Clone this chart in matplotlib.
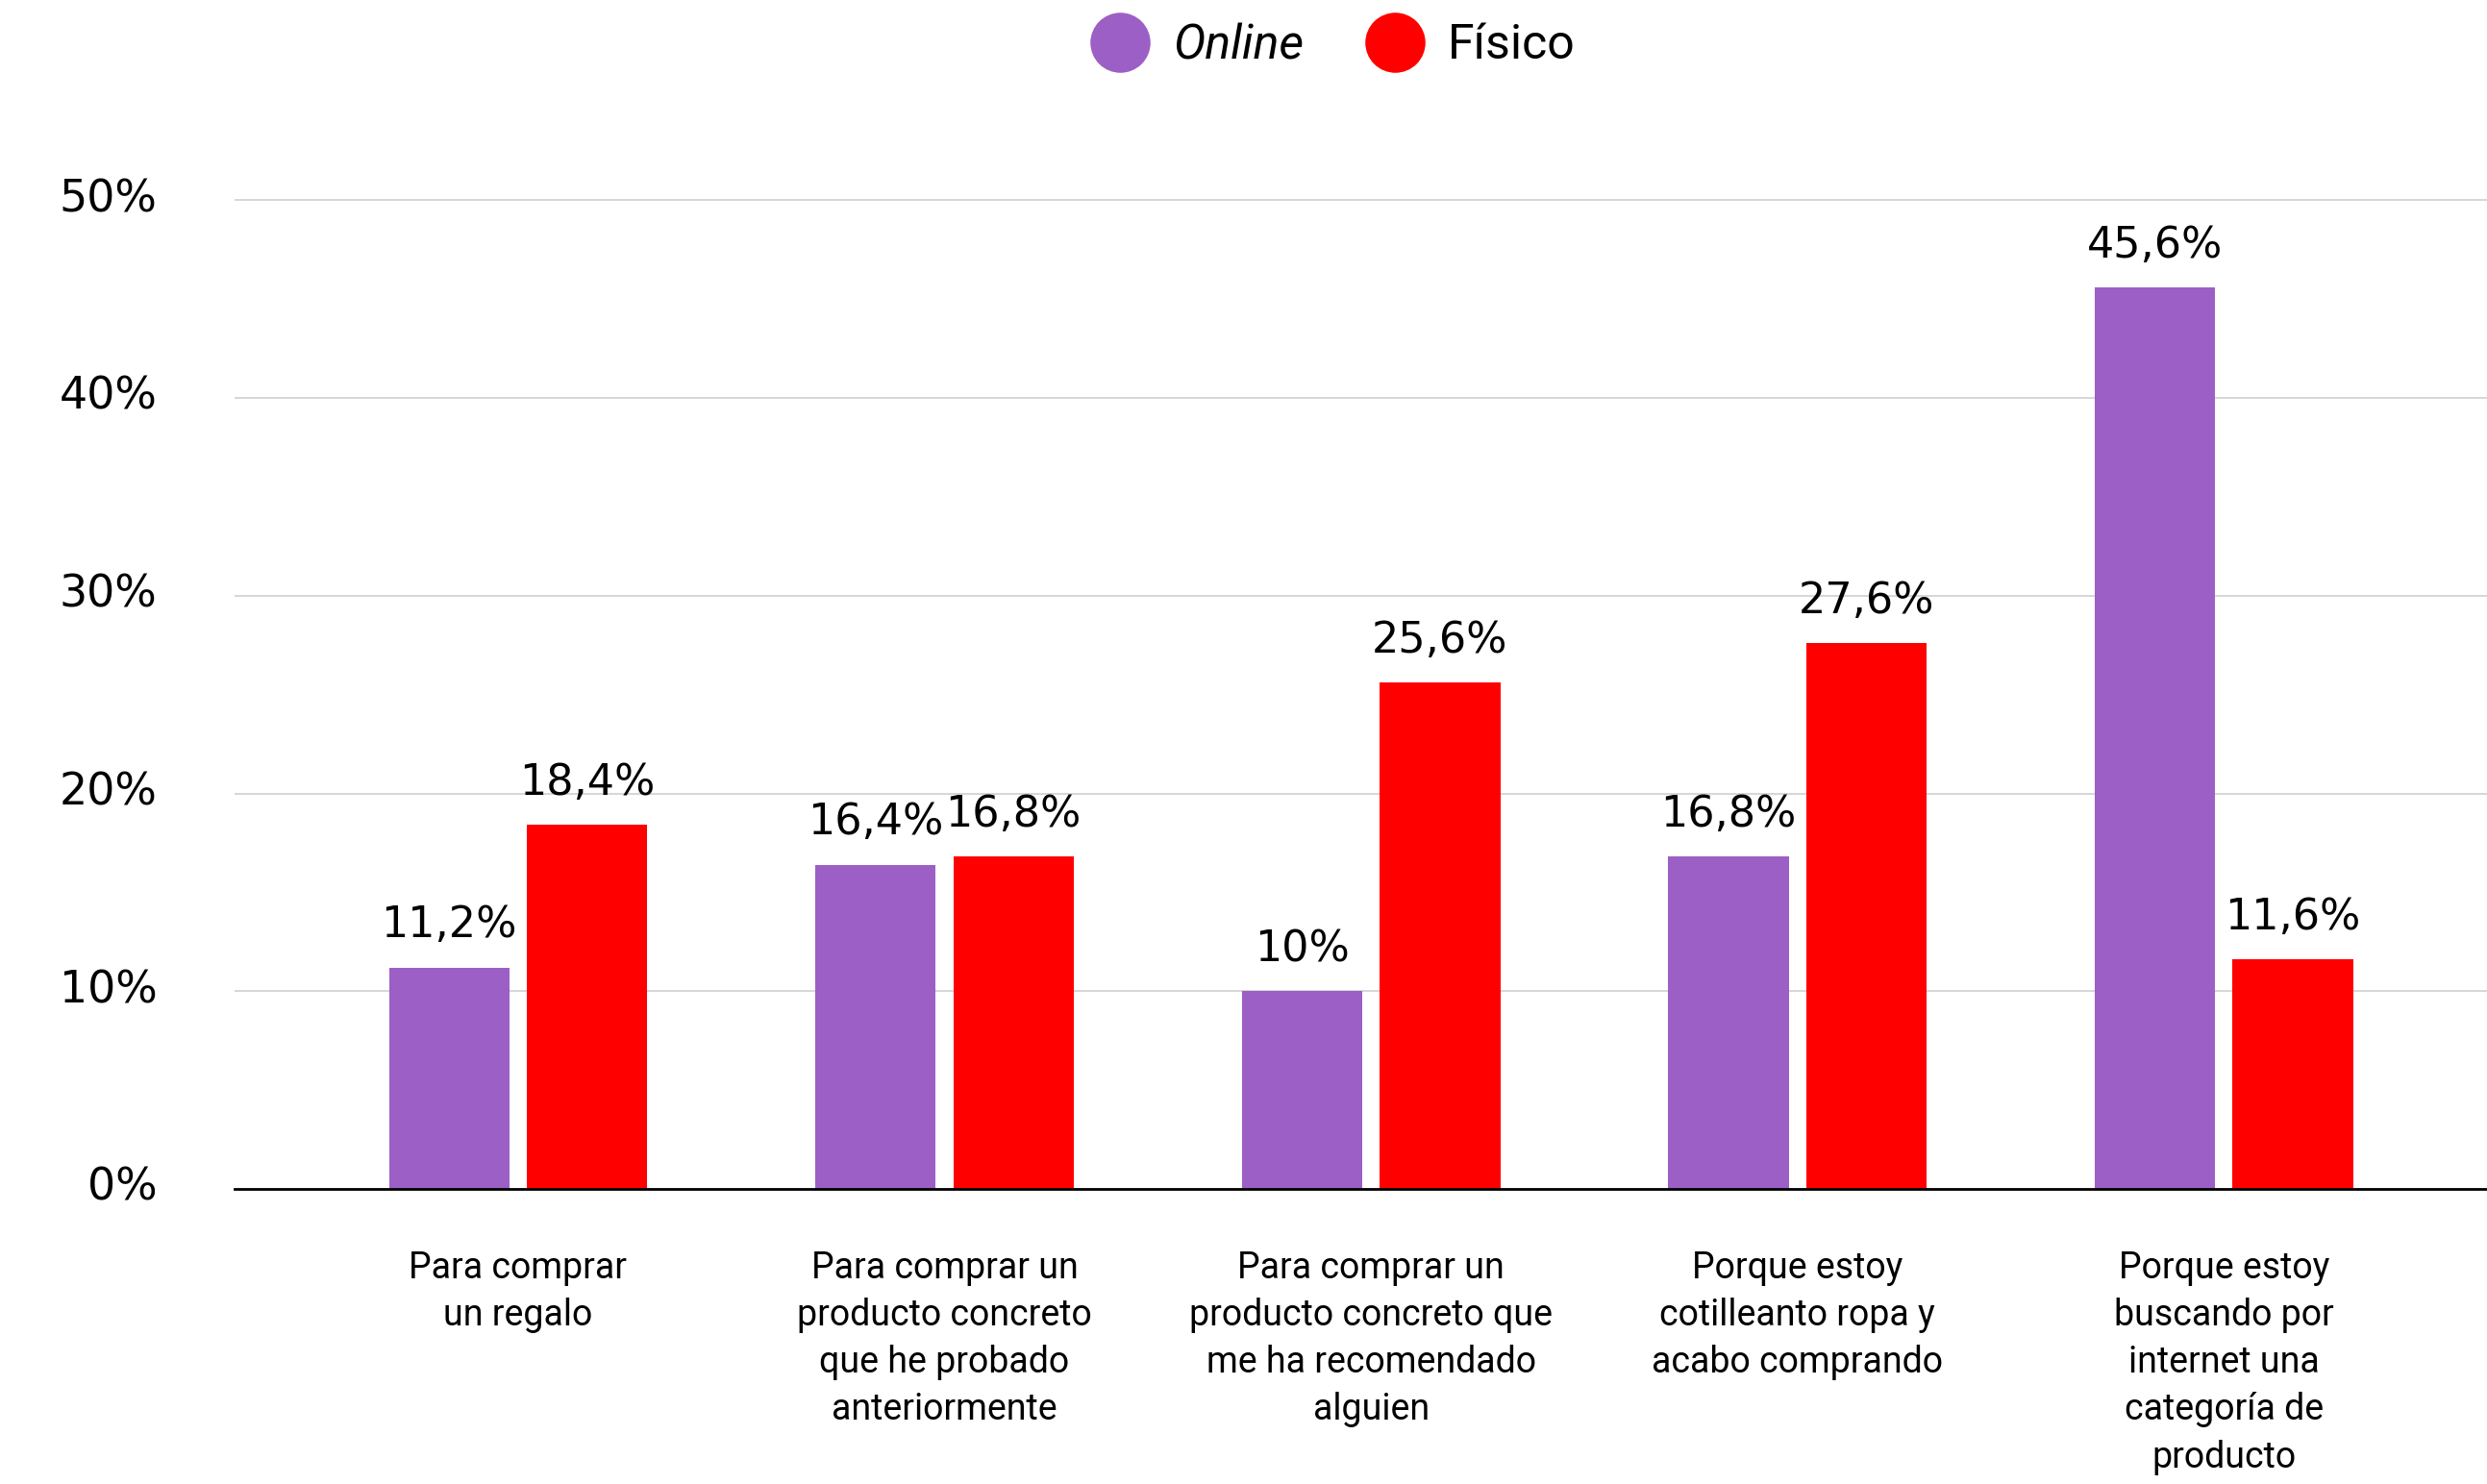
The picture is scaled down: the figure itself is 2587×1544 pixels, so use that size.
import numpy as np
import matplotlib.pyplot as plt
import matplotlib.transforms as mtransforms
from matplotlib.lines import Line2D

categories = [
    'Para comprar\nun regalo',
    'Para comprar un\nproducto concreto\nque he probado\nanteriormente',
    'Para comprar un\nproducto concreto que\nme ha recomendado\nalguien',
    'Porque estoy\ncotilleanto ropa y\nacabo comprando',
    'Porque estoy\nbuscando por\ninternet una\ncategoría de\nproducto',
]
online = [11.2, 16.4, 10.0, 16.8, 45.6]
fisico = [18.4, 16.8, 25.6, 27.6, 11.6]
online_labels = ['11,2%', '16,4%', '10%', '16,8%', '45,6%']
fisico_labels = ['18,4%', '16,8%', '25,6%', '27,6%', '11,6%']
yticks = [0, 10, 20, 30, 40, 50]

PURPLE = '#9c5fc5'
RED = '#ff0000'
NUM_FONT = 'DejaVu Sans'
TXT_FONT = 'Roboto'

fig = plt.figure(figsize=(25.87, 15.44), dpi=100)
ax = fig.add_axes([0.0943, 0.1988, 0.9057, 0.693])

x = np.arange(len(categories))
w = 0.2825
off = 0.1617
b1 = ax.bar(x - off, online, w, color=PURPLE, zorder=3)
b2 = ax.bar(x + off, fisico, w, color=RED, zorder=3)

for bars, labels in ((b1, online_labels), (b2, fisico_labels)):
    for bar, lab in zip(bars, labels):
        ax.annotate(lab, (bar.get_x() + bar.get_width() / 2, bar.get_height()),
                    xytext=(0, 16), textcoords='offset points',
                    ha='center', va='bottom', fontsize=32, family=NUM_FONT,
                    color='black', zorder=4)

ax.set_xlim(-0.665, 4.617)
ax.set_ylim(0, 52)
ax.set_yticks(yticks)
ax.set_yticklabels([f'{t}%' for t in yticks], fontsize=33, family=NUM_FONT)
ax.tick_params(axis='y', length=0, pad=58)
# nudge the y labels a little above their gridlines
lift = mtransforms.ScaledTranslation(0, 4 / 72, fig.dpi_scale_trans)
for lbl in ax.get_yticklabels():
    lbl.set_transform(lbl.get_transform() + lift)
ax.yaxis.grid(True, color='#d3d3d3', linewidth=1.3, zorder=0)
ax.set_axisbelow(True)

ax.set_xticks(x)
ax.set_xticklabels(categories, fontsize=27, family=TXT_FONT, linespacing=1.42)
ax.tick_params(axis='x', length=0, pad=46)

for s in ('top', 'right', 'left'):
    ax.spines[s].set_visible(False)
ax.spines['bottom'].set_color('black')
ax.spines['bottom'].set_linewidth(2)
ax.spines['bottom'].set_zorder(5)

handles = [
    Line2D([], [], marker='o', linestyle='none', markersize=44,
           markerfacecolor=PURPLE, markeredgecolor=PURPLE),
    Line2D([], [], marker='o', linestyle='none', markersize=44,
           markerfacecolor=RED, markeredgecolor=RED),
]
leg = fig.legend(handles, ['Online', 'Físico'], loc='upper center',
                 bbox_to_anchor=(0.536, 1.014), ncol=2, frameon=False,
                 prop={'family': TXT_FONT, 'size': 36},
                 handletextpad=0.5, columnspacing=1.3, handlelength=1.2)
leg.get_texts()[0].set_fontstyle('italic')

fig.savefig('out.png', dpi=100)
